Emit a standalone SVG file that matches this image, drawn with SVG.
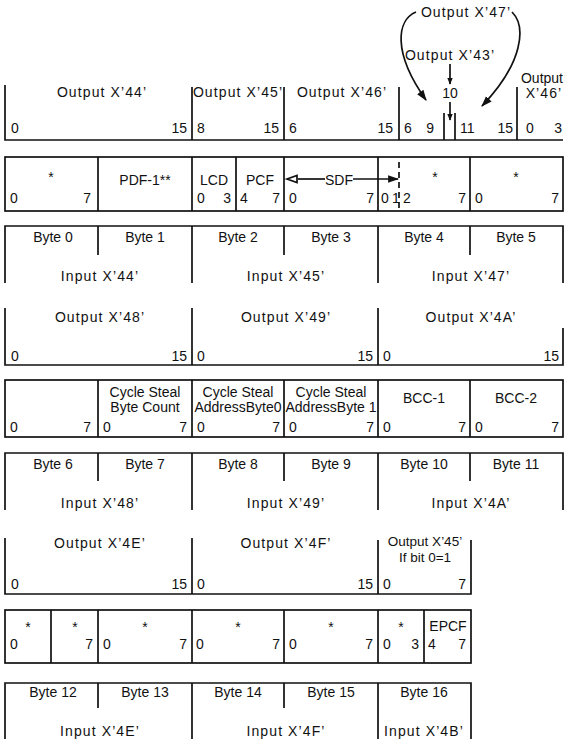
<svg xmlns="http://www.w3.org/2000/svg" width="569" height="739" viewBox="0 0 569 739">
<style>
text{font-family:"Liberation Sans",Arial,sans-serif;font-size:14px;fill:#111}
.c{text-anchor:middle}
.e{text-anchor:end}
.sp{letter-spacing:1.1px}
.sm{font-size:13.5px}
.ln{stroke:#111;stroke-width:1.7;fill:none}
.bx{stroke:#111;stroke-width:1.7;fill:none}
</style>
<defs>
<marker id="ah" viewBox="0 0 10 10" refX="9" refY="5" markerWidth="7" markerHeight="7" markerUnits="userSpaceOnUse" orient="auto">
<path d="M0,1 L10,5 L0,9 Z" fill="#111"/>
</marker>
<marker id="ahb" viewBox="0 0 10 10" refX="9" refY="5" markerWidth="11" markerHeight="11" markerUnits="userSpaceOnUse" orient="auto">
<path d="M0,1.5 L10,5 L0,8.5 Z" fill="#111"/>
</marker>
</defs>
<rect width="569" height="739" fill="#fff"/>

<g id="connectors">
<text class="c sp" x="466" y="17">Output X’47’</text>
<path class="ln" d="M416,12 C397,20 392,52 426,100" marker-end="url(#ahb)"/>
<path class="ln" d="M512,12 C526,26 524,62 482,106" marker-end="url(#ahb)"/>
<text class="c sp" x="450" y="60">Output X’43’</text>
<line class="ln" x1="450" y1="64" x2="450" y2="84" marker-end="url(#ah)"/>
<text class="c" x="450" y="98">10</text>
<line class="ln" x1="450" y1="102" x2="450" y2="120" marker-end="url(#ah)"/>
</g>

<g id="rowA">
<path class="ln" d="M5,85 V140 H563 M192,87 V140 M284,87 V140 M399,87 V140 M517,87 V140 M444,113 V140 M455,113 V140"/>
<text class="c sp" x="102" y="97">Output X’44’</text>
<text class="c sp" x="238" y="97">Output X’45’</text>
<text class="c sp" x="342" y="97">Output X’46’</text>
<text class="c" x="542" y="83">Output</text>
<text class="c sp" x="544" y="98">X’46’</text>
<text x="11" y="133">0</text><text class="e" x="187" y="133">15</text>
<text x="197" y="133">8</text><text class="e" x="279" y="133">15</text>
<text x="289" y="133">6</text><text class="e" x="393" y="133">15</text>
<text x="404" y="133">6</text><text class="e" x="434" y="133">9</text>
<text x="460" y="133">11</text><text class="e" x="513" y="133">15</text>
<text x="526" y="133">0</text><text class="e" x="562" y="133">3</text>
</g>

<g id="rowB">
<rect class="bx" x="5" y="157" width="558" height="54"/>
<path class="ln" d="M98,157 V211 M192,157 V211 M236,157 V211 M284,157 V211 M378,157 V211 M470,157 V211"/>
<line class="ln" x1="399" y1="162" x2="399" y2="211" stroke-dasharray="6,4"/>
<text class="c" x="51" y="182">*</text>
<text class="c" x="145" y="185">PDF-1**</text>
<text class="c" x="214" y="185">LCD</text>
<text class="c" x="260" y="185">PCF</text>
<line class="ln" x1="298" y1="179" x2="325" y2="179"/>
<polygon points="287,179 297,175.5 297,182.5" fill="#fff" stroke="#111" stroke-width="1.7"/>
<text class="c" x="339" y="185">SDF</text>
<line class="ln" x1="353" y1="179" x2="398" y2="179" marker-end="url(#ahb)"/>
<text class="c" x="435" y="182">*</text>
<text class="c" x="516" y="182">*</text>
<text x="10" y="203">0</text><text class="e" x="91" y="203">7</text>
<text x="197" y="203">0</text><text class="e" x="231" y="203">3</text>
<text x="240" y="203">4</text><text class="e" x="280" y="203">7</text>
<text x="289" y="203">0</text><text class="e" x="374" y="203">7</text>
<text x="381" y="203">0</text><text x="392" y="203">1</text>
<text x="403" y="203">2</text><text class="e" x="466" y="203">7</text>
<text x="475" y="203">0</text><text class="e" x="559" y="203">7</text>
</g>

<g id="rowC">
<path class="ln" d="M5,283 V226 H563 V283 M192,226 V283 M378,226 V283 M98,226 V255 M284,226 V255 M470,226 V255"/>
<text class="c" x="53" y="242">Byte 0</text>
<text class="c" x="145" y="242">Byte 1</text>
<text class="c" x="238" y="242">Byte 2</text>
<text class="c" x="331" y="242">Byte 3</text>
<text class="c" x="424" y="242">Byte 4</text>
<text class="c" x="516" y="242">Byte 5</text>
<text class="c sp" x="100" y="281">Input X’44’</text>
<text class="c sp" x="286" y="281">Input X’45’</text>
<text class="c sp" x="471" y="281">Input X’47’</text>
</g>

<g id="rowD">
<path class="ln" d="M5,308 V365 H563 V328 M192,308 V365 M378,308 V365"/>
<text class="c sp" x="100" y="322">Output X’48’</text>
<text class="c sp" x="286" y="322">Output X’49’</text>
<text class="c sp" x="471" y="322">Output X’4A’</text>
<text x="11" y="361">0</text><text class="e" x="187" y="361">15</text>
<text x="197" y="361">0</text><text class="e" x="373" y="361">15</text>
<text x="383" y="361">0</text><text class="e" x="559" y="361">15</text>
</g>

<g id="rowE">
<rect class="bx" x="5" y="380" width="558" height="57"/>
<path class="ln" d="M98,380 V437 M192,380 V437 M284,380 V437 M378,380 V437 M470,380 V437"/>
<text class="c" x="145" y="397">Cycle Steal</text>
<text class="c" x="145" y="412">Byte Count</text>
<text class="c" x="238" y="397">Cycle Steal</text>
<text class="c" x="238" y="412">AddressByte0</text>
<text class="c" x="331" y="397">Cycle Steal</text>
<text class="c" x="331" y="412">AddressByte 1</text>
<text class="c" x="424" y="403">BCC-1</text>
<text class="c" x="516" y="403">BCC-2</text>
<text x="10" y="432">0</text><text class="e" x="91" y="432">7</text>
<text x="103" y="432">0</text><text class="e" x="187" y="432">7</text>
<text x="197" y="432">0</text><text class="e" x="280" y="432">7</text>
<text x="289" y="432">0</text><text class="e" x="374" y="432">7</text>
<text x="383" y="432">0</text><text class="e" x="466" y="432">7</text>
<text x="475" y="432">0</text><text class="e" x="559" y="432">7</text>
</g>

<g id="rowF">
<path class="ln" d="M5,510 V453 H563 V510 M192,453 V510 M378,453 V510 M98,453 V481 M284,453 V481 M470,453 V481"/>
<text class="c" x="53" y="469">Byte 6</text>
<text class="c" x="145" y="469">Byte 7</text>
<text class="c" x="238" y="469">Byte 8</text>
<text class="c" x="331" y="469">Byte 9</text>
<text class="c" x="424" y="469">Byte 10</text>
<text class="c" x="516" y="469">Byte 11</text>
<text class="c sp" x="100" y="508">Input X’48’</text>
<text class="c sp" x="286" y="508">Input X’49’</text>
<text class="c sp" x="471" y="508">Input X’4A’</text>
</g>

<g id="rowG">
<path class="ln" d="M5,538 V594 H471 V540 M192,538 V594 M378,540 V594"/>
<text class="c sp" x="100" y="548">Output X’4E’</text>
<text class="c sp" x="286" y="548">Output X’4F’</text>
<text class="c sm" x="425" y="546">Output X’45’</text>
<text class="c sm" x="425" y="562">If bit 0=1</text>
<text x="11" y="589">0</text><text class="e" x="187" y="589">15</text>
<text x="197" y="589">0</text><text class="e" x="373" y="589">15</text>
<text x="383" y="589">0</text><text class="e" x="466" y="589">7</text>
</g>

<g id="rowH">
<rect class="bx" x="5" y="610" width="466" height="53"/>
<path class="ln" d="M51,610 V663 M98,610 V663 M192,610 V663 M284,610 V663 M378,610 V663 M424,610 V663"/>
<text class="c" x="28" y="632">*</text>
<text class="c" x="75" y="632">*</text>
<text class="c" x="145" y="632">*</text>
<text class="c" x="238" y="632">*</text>
<text class="c" x="331" y="632">*</text>
<text class="c" x="401" y="632">*</text>
<text class="c" x="448" y="631">EPCF</text>
<text x="10" y="649">0</text><text class="e" x="93" y="649">7</text>
<text x="103" y="649">0</text><text class="e" x="187" y="649">7</text>
<text x="196" y="649">0</text><text class="e" x="280" y="649">7</text>
<text x="289" y="649">0</text><text class="e" x="373" y="649">7</text>
<text x="383" y="649">0</text><text class="e" x="419" y="649">3</text>
<text x="428" y="649">4</text><text class="e" x="466" y="649">7</text>
</g>

<g id="rowI">
<path class="ln" d="M5,739 V683 H471 V739 M192,683 V739 M378,683 V739 M98,683 V708 M284,683 V708"/>
<text class="c" x="53" y="697">Byte 12</text>
<text class="c" x="145" y="697">Byte 13</text>
<text class="c" x="238" y="697">Byte 14</text>
<text class="c" x="331" y="697">Byte 15</text>
<text class="c" x="424" y="697">Byte 16</text>
<text class="c sp" x="100" y="736">Input X’4E’</text>
<text class="c sp" x="286" y="736">Input X’4F’</text>
<text class="c sp" x="424" y="736">Input X’4B’</text>
</g>
</svg>
